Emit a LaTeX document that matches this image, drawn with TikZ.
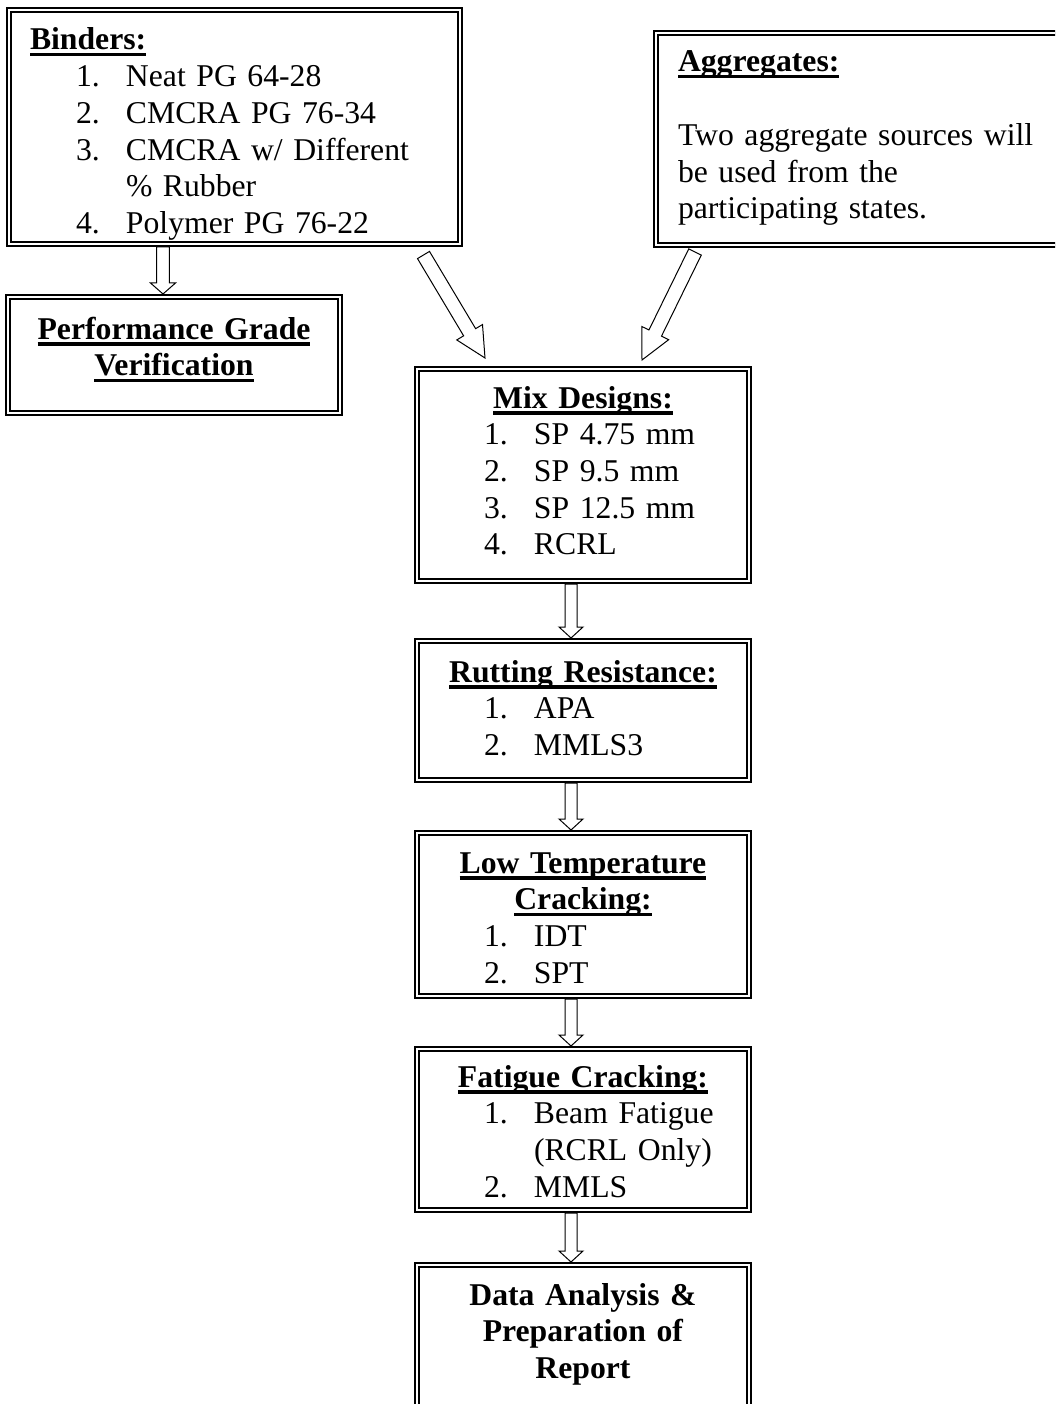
\documentclass[tikz,border=0pt]{standalone}
\usepackage{fontspec}
\setmainfont{Liberation Serif}
\usetikzlibrary{positioning}
\usetikzlibrary{calc}

\newcommand\undr[1]{\setbox0\hbox{#1}\rlap{\rule[-6.5pt]{\wd0}{3.5pt}}\box0}
\newcommand\head[1]{\makebox[\linewidth]{\textbf{\undr{#1}}}}
\newcommand\bhead[1]{\makebox[\linewidth]{\textbf{#1}}}
\newcommand\entry[2]{\hspace*{67pt}\makebox[50pt][l]{#1}#2}
% block arrow: from, to, half shaft, half head, head length
\newcommand\fatarrow[5]{%
  \coordinate (hb) at ($(#2)!#5!(#1)$);
  \draw[fatarr] ($(#1)!#3!90:(#2)$) -- ($(hb)!#3!-90:(#1)$) -- ($(hb)!#4!-90:(#1)$) -- (#2)
    -- ($(hb)!#4!90:(#1)$) -- ($(hb)!#3!90:(#1)$) -- ($(#1)!#3!-90:(#2)$) -- cycle;}

\tikzset{
  stage/.style={draw, line width=2pt, double, double distance=2.5pt, inner sep=0pt, outer sep=0pt,
    align=left, font=\fontsize{31.7}{36.7}\selectfont},
  fatarr/.style={draw, line width=1pt, line join=miter}
}

\begin{document}
\begin{tikzpicture}[x=1pt, y=-1pt]
    \path[use as bounding box] (0,0) rectangle (1055,1404);
    \clip (0,0) rectangle (1055,1404);

    % inputs
    \node[stage, anchor=north west, text width=451pt, text height=40pt, text depth=194pt] (binders) at (9,10)
        {\hspace*{21pt}\textbf{\undr{Binders:}}\\
         \entry{1.}{Neat PG 64-28}\\
         \entry{2.}{CMCRA PG 76-34}\\
         \entry{3.}{CMCRA w/ Different}\\
         \entry{}{\% Rubber}\\
         \entry{4.}{Polymer PG 76-22}};
    \node[stage, anchor=north west, text width=424pt, text height=39pt, text depth=173pt] (aggr) at (656,33)
        {\hspace*{22pt}\textbf{\undr{Aggregates:}}\\
         \mbox{}\\
         \hspace*{22pt}Two aggregate sources will\\
         \hspace*{22pt}be used from the\\
         \hspace*{22pt}participating states.};
    \node[stage, anchor=north west, text width=332pt, text height=42pt, text depth=74pt] (perf) at (8,297)
        {\head{Performance Grade}\\ \head{Verification}};

    % main chain
    \node[stage, anchor=north west, text width=332pt, text height=39pt, text depth=173pt] (mix) at (417,369)
        {\head{Mix Designs:}\\
         \entry{1.}{SP 4.75 mm}\\
         \entry{2.}{SP 9.5 mm}\\
         \entry{3.}{SP 12.5 mm}\\
         \entry{4.}{RCRL}};
    \node[stage, below=60pt of mix, text width=332pt, text height=41pt, text depth=98pt] (rut)
        {\head{Rutting Resistance:}\\
         \entry{1.}{APA}\\
         \entry{2.}{MMLS3}};
    \node[stage, below=53pt of rut, text width=332pt, text height=40pt, text depth=123pt] (lowtemp)
        {\head{Low Temperature}\\ \head{Cracking:}\\
         \entry{1.}{IDT}\\
         \entry{2.}{SPT}};
    \node[stage, below=53pt of lowtemp, text width=332pt, text height=38pt, text depth=123pt] (fatigue)
        {\head{Fatigue Cracking:}\\
         \entry{1.}{Beam Fatigue}\\
         \entry{}{(RCRL Only)}\\
         \entry{2.}{MMLS}};
    \node[stage, below=55pt of fatigue, text width=332pt, text height=40pt, text depth=115pt] (report)
        {\bhead{Data Analysis \&}\\ \bhead{Preparation of}\\ \bhead{Report}};

    % arrows
    \coordinate (b1) at ($(binders.south)+(-71.5,3)$);
    \coordinate (p1) at ($(perf.north)+(-11,-3)$);
    \fatarrow{b1}{p1}{6.3pt}{12.5pt}{11pt}
    \coordinate (b2) at (423.5,255);
    \coordinate (m1) at (485,358);
    \fatarrow{b2}{m1}{7pt}{15pt}{30pt}
    \coordinate (a2) at (695,252);
    \coordinate (m2) at (642,360);
    \fatarrow{a2}{m2}{7pt}{15pt}{30pt}
    \foreach \a/\b in {mix/rut, rut/lowtemp, lowtemp/fatigue, fatigue/report} {
        \coordinate (s) at ($(\a.south)+(-12,3)$);
        \coordinate (t) at ($(\b.north)+(-12,-3)$);
        \fatarrow{s}{t}{6pt}{12pt}{11pt}
    }
\end{tikzpicture}
\end{document}
